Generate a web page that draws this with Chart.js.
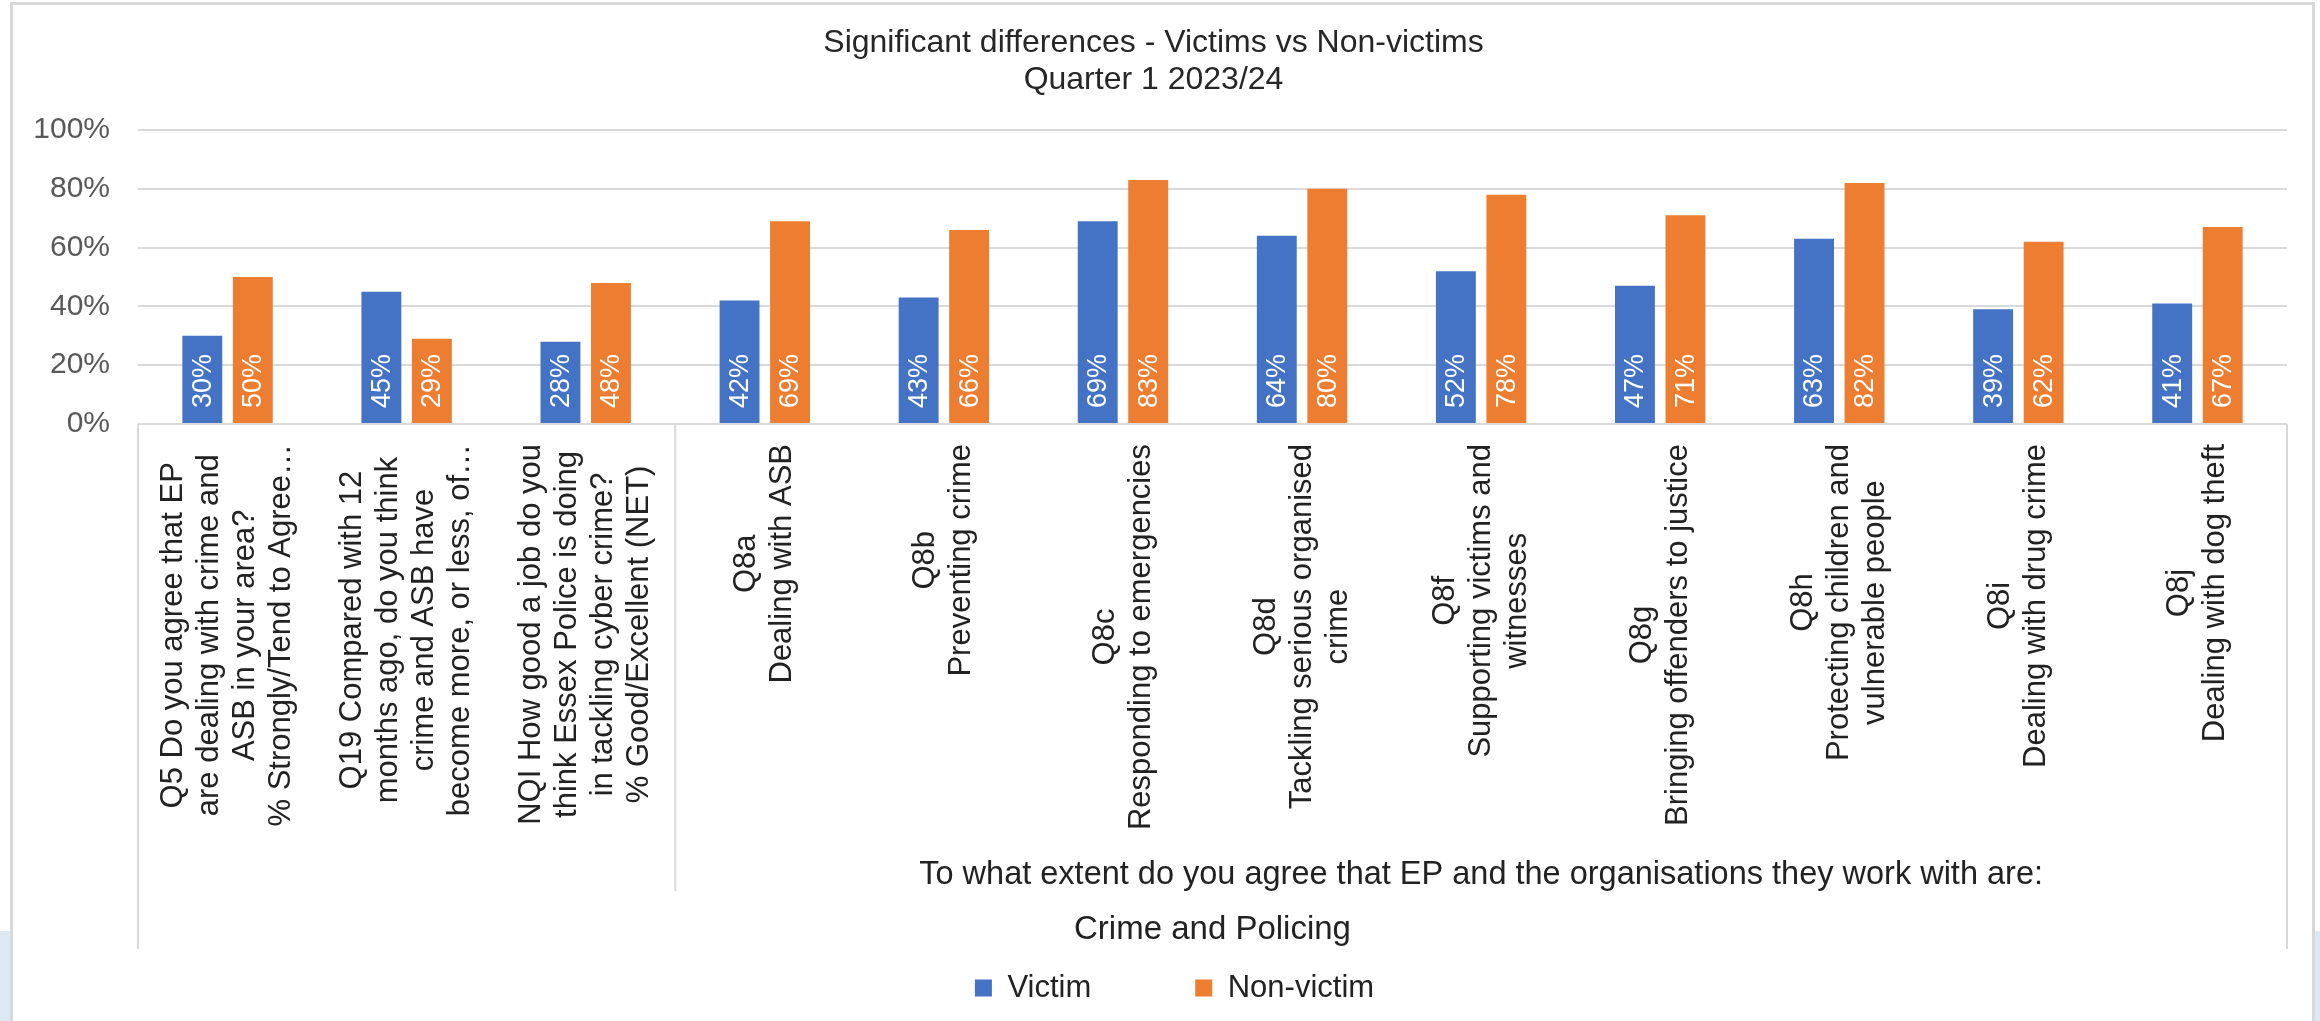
<!DOCTYPE html>
<html>
<head>
<meta charset="utf-8">
<script src="https://cdn.jsdelivr.net/npm/chart.js@4.4.0/dist/chart.umd.min.js"></script>
<style>
  html, body { margin: 0; padding: 0; background: #fff; }
  body { width: 2320px; height: 1021px; position: relative; overflow: hidden; }
  .slide { position: absolute; top: 931px; height: 90px; background: #dde8f5; }
  .frame { position: absolute; left: 10px; top: 2px; width: 2305px; height: 1100px; border: 3px solid #d9d9d9; box-sizing: border-box; background: #fff; }
  #wrap { position: absolute; left: 0; top: 0; width: 2320px; height: 1021px; }
</style>
</head>
<body>
<div class="slide" style="left:0;width:11px"></div>
<div class="slide" style="left:2314px;width:6px"></div>
<div class="frame"></div>
<div id="wrap"><canvas id="chart"></canvas></div>
<script>
// categories (each one split in the lines shown under the axis)
const categories = [
    ['Q5 Do you agree that EP', 'are dealing with crime and', 'ASB in your area?', '% Strongly/Tend to Agree\u2026'],
    ['Q19 Compared with 12', 'months ago, do you think', 'crime and ASB have', 'become more, or less, of\u2026'],
    ['NQI How good a job do you', 'think Essex Police is doing', 'in tackling cyber crime?', '% Good/Excellent (NET)'],
    ['Q8a', 'Dealing with ASB'],
    ['Q8b', 'Preventing crime'],
    ['Q8c', 'Responding to emergencies'],
    ['Q8d', 'Tackling serious organised', 'crime'],
    ['Q8f', 'Supporting victims and', 'witnesses'],
    ['Q8g', 'Bringing offenders to justice'],
    ['Q8h', 'Protecting children and', 'vulnerable people'],
    ['Q8i', 'Dealing with drug crime'],
    ['Q8j', 'Dealing with dog theft']
];

const victimValues    = [30, 45, 28, 42, 43, 69, 64, 52, 47, 63, 39, 41];
const nonVictimValues = [50, 29, 48, 69, 66, 83, 80, 78, 71, 82, 62, 67];

const yTicks = [0, 20, 40, 60, 80, 100];

const titleLines = ['Significant differences - Victims vs Non-victims', 'Quarter 1 2023/24'];
const groupLabel = 'To what extent do you agree that EP and the organisations they work with are:';
const groupStart = 3; // first category of the Q8 group
const outerLabel = 'Crime and Policing';

const FONT = '"Liberation Sans", Arial, sans-serif';

// white value labels inside the base of each bar
const barLabels = {
    id: 'barLabels',
    afterDatasetsDraw(chart) {
        const ctx = chart.ctx;
        const base = chart.scales.y.getPixelForValue(0);
        ctx.save();
        ctx.font = '27px ' + FONT;
        ctx.fillStyle = '#ffffff';
        ctx.textAlign = 'left';
        ctx.textBaseline = 'middle';
        chart.data.datasets.forEach((ds, i) => {
            chart.getDatasetMeta(i).data.forEach((bar, j) => {
                ctx.save();
                ctx.translate(bar.x, base - 16);
                ctx.rotate(-Math.PI / 2);
                ctx.fillText(ds.data[j] + '%', 0, 1);
                ctx.restore();
            });
        });
        ctx.restore();
    }
};

// rotated category labels + the two grouping levels below them
const axisLabels = {
    id: 'axisLabels',
    afterLayout(chart) {
        // legend sits a little right of centre in the original
        chart.legend.left += 21;
        chart.legend.right += 21;
    },
    afterDraw(chart) {
        const { ctx, chartArea } = chart;
        const x = chart.scales.x;
        const bottom = chartArea.bottom;
        const step = x.getPixelForValue(1) - x.getPixelForValue(0);

        ctx.save();
        ctx.font = '31px ' + FONT;
        ctx.fillStyle = '#222222';
        ctx.textAlign = 'center';
        ctx.textBaseline = 'middle';

        categories.forEach((lines, i) => {
            const cx = x.getPixelForValue(i);
            const len = Math.max(...lines.map(l => ctx.measureText(l).width));
            ctx.save();
            ctx.translate(cx, bottom + 20 + len / 2);
            ctx.rotate(-Math.PI / 2);
            lines.forEach((l, k) => {
                ctx.fillText(l, 0, (k - (lines.length - 1) / 2) * 36);
            });
            ctx.restore();
        });

        const sepX = x.getPixelForValue(groupStart) - step / 2;
        ctx.font = '32.5px ' + FONT;
        ctx.fillText(groupLabel, (sepX + chartArea.right) / 2, bottom + 451);
        ctx.font = '33px ' + FONT;
        ctx.fillText(outerLabel, (chartArea.left + chartArea.right) / 2, bottom + 506);

        ctx.strokeStyle = '#d9d9d9';
        ctx.lineWidth = 2;
        ctx.beginPath();
        ctx.moveTo(chartArea.left, bottom);
        ctx.lineTo(chartArea.left, bottom + 525);
        ctx.moveTo(chartArea.right, bottom);
        ctx.lineTo(chartArea.right, bottom + 525);
        ctx.moveTo(sepX, bottom);
        ctx.lineTo(sepX, bottom + 467);
        ctx.stroke();
        ctx.restore();
    }
};

new Chart(document.getElementById('chart'), {
    type: 'bar',
    data: {
        labels: categories,
        datasets: [
            {
                label: 'Victim',
                data: victimValues,
                backgroundColor: '#4472C4',
                borderWidth: 0,
                categoryPercentage: 0.564,
                barPercentage: 0.79
            },
            {
                label: 'Non-victim',
                data: nonVictimValues,
                backgroundColor: '#ED7D31',
                borderWidth: 0,
                categoryPercentage: 0.564,
                barPercentage: 0.79
            }
        ]
    },
    options: {
        responsive: true,
        maintainAspectRatio: false,
        animation: false,
        layout: { padding: { left: 20, right: 33, top: 0, bottom: 7.5 } },
        plugins: {
            title: {
                display: true,
                text: titleLines,
                color: '#262626',
                font: { family: FONT, size: 32, weight: 'normal', lineHeight: 1.16 },
                padding: { top: 24.5, bottom: 31.3 }
            },
            legend: {
                position: 'bottom',
                labels: {
                    boxWidth: 17,
                    boxHeight: 17,
                    padding: 104,
                    color: '#222222',
                    font: { family: FONT, size: 31 }
                }
            },
            tooltip: { enabled: false }
        },
        scales: {
            x: {
                grid: { display: false },
                border: { display: false },
                ticks: { display: false },
                afterFit: (s) => { s.height = 444.5; }
            },
            y: {
                min: 0,
                max: 100,
                afterBuildTicks: (s) => { s.ticks = yTicks.map(v => ({ value: v })); },
                grid: { color: '#d9d9d9', lineWidth: 2, drawTicks: false },
                border: { display: false },
                ticks: {
                    padding: 28,
                    color: '#595959',
                    font: { family: FONT, size: 30 },
                    callback: (v) => v + '%'
                },
                afterFit: (s) => { s.width = 118; }
            }
        }
    },
    plugins: [barLabels, axisLabels]
});
</script>
</body>
</html>
